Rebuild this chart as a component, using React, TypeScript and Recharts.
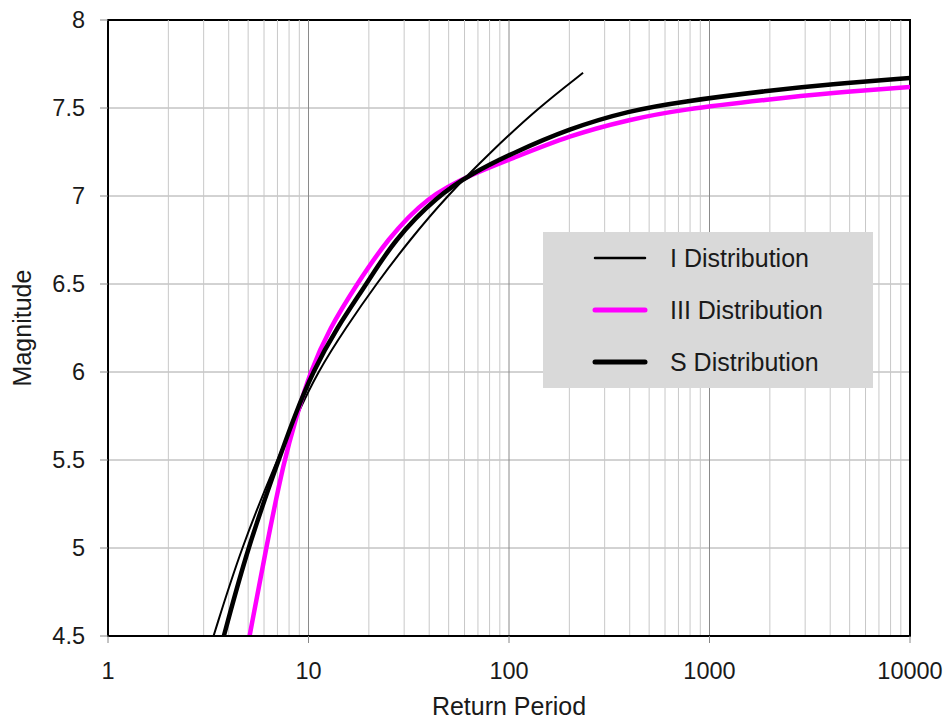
import React from 'react';
import { LineChart, Line, XAxis, YAxis, CartesianGrid, ReferenceLine, ReferenceArea } from 'recharts';

const periodTicks = [1, 10, 100, 1000, 10000];
const magnitudeTicks = [4.5, 5, 5.5, 6, 6.5, 7, 7.5, 8];
const decadeLines = [10, 100, 1000];
const minorLines = [
  2, 3, 4, 5, 6, 7, 8, 9,
  20, 30, 40, 50, 60, 70, 80, 90,
  200, 300, 400, 500, 600, 700, 800, 900,
  2000, 3000, 4000, 5000, 6000, 7000, 8000, 9000,
];

// I distribution (thin black), stops near T=230
const iPeriods = [3.36, 4.61, 6.97, 8.72, 11.1, 15.31, 21.75, 31.95, 49.05, 81.0, 139.5, 234.1];
const iMagnitudes = [4.5, 5.0, 5.5, 5.75, 6.0, 6.25, 6.5, 6.75, 7.0, 7.25, 7.5, 7.7];

// III distribution (magenta)
const iiiPeriods = [5.083, 6.143, 7.554, 8.722, 10.19, 12.74, 17.47, 24.53, 39.29, 65.9, 100.8, 200.9, 400.3, 711, 1999, 3984, 10000];
const iiiMagnitudes = [4.5, 5.0, 5.5, 5.75, 6.0, 6.25, 6.5, 6.75, 7.0, 7.125, 7.207, 7.345, 7.435, 7.49, 7.55, 7.585, 7.62];

// S distribution (thick black)
const sPeriods = [3.782, 4.967, 7.092, 8.523, 10.48, 13.81, 19.49, 26.74, 43.83, 65.9, 100.8, 200.9, 400.3, 711, 1999, 3984, 10000];
const sMagnitudes = [4.5, 5.0, 5.5, 5.75, 6.0, 6.25, 6.5, 6.75, 7.0, 7.13, 7.236, 7.385, 7.485, 7.535, 7.6, 7.635, 7.67];

const toRows = (periods: number[], mags: number[]) => periods.map((T, k) => ({ T, M: mags[k] }));

const series = [
  { name: 'I Distribution', color: '#000000', width: 2, data: toRows(iPeriods, iMagnitudes) },
  { name: 'III Distribution', color: '#ff00ff', width: 4.5, data: toRows(iiiPeriods, iiiMagnitudes) },
  { name: 'S Distribution', color: '#000000', width: 4.5, data: toRows(sPeriods, sMagnitudes) },
];

const FONT = '"Liberation Sans", Arial, sans-serif';

function LegendBox() {
  return (
    <div
      style={{
        position: 'absolute', left: 543, top: 232, width: 330, height: 156,
        background: '#d9d9d9', fontFamily: FONT,
      }}
    >
      {series.map((s, k) => (
        <div key={s.name} style={{ position: 'absolute', left: 0, top: 26 + k * 52 - 14, height: 28, display: 'flex', alignItems: 'center' }}>
          <svg width={127} height={12} style={{ flex: 'none' }}>
            <line x1={52} x2={102} y1={6} y2={6} stroke={s.color} strokeWidth={s.width + 0.5} strokeLinecap="round" />
          </svg>
          <span style={{ fontSize: 25, color: '#1a1a1a', whiteSpace: 'nowrap' }}>{s.name}</span>
        </div>
      ))}
    </div>
  );
}

export default function App() {
  const tickStyle = { fontSize: 23.5, fill: '#1a1a1a', fontFamily: FONT };
  const titleStyle = { fontSize: 25, fill: '#1a1a1a', fontFamily: FONT };
  return (
    <div style={{ position: 'absolute', left: 0, top: 0, width: 945, height: 722, background: '#fff' }}>
      <LineChart width={945} height={722} margin={{ top: 20, right: 35, left: 0, bottom: 0 }}>
        <CartesianGrid vertical={false} stroke="#a6a6a6" />
        {minorLines.map((v) => (
          <ReferenceLine key={`m${v}`} x={v} stroke="#c8c8c8" strokeWidth={1} />
        ))}
        {decadeLines.map((v) => (
          <ReferenceLine key={`d${v}`} x={v} stroke="#8a8a8a" strokeWidth={1} />
        ))}
        <XAxis
          dataKey="T"
          type="number"
          scale="log"
          domain={[1, 10000]}
          ticks={periodTicks}
          allowDataOverflow
          height={86}
          axisLine={{ stroke: '#000', strokeWidth: 2 }}
          tickLine={{ stroke: '#888' }}
          tickSize={7}
          tickMargin={19}
          tick={tickStyle}
          label={{ value: 'Return Period', position: 'insideBottom', offset: 7, style: titleStyle }}
        />
        <YAxis
          type="number"
          domain={[4.5, 8]}
          ticks={magnitudeTicks}
          allowDataOverflow
          width={108}
          axisLine={{ stroke: '#000', strokeWidth: 2 }}
          tickLine={{ stroke: '#888' }}
          tickSize={8}
          tickMargin={15}
          tick={tickStyle}
          label={{ value: 'Magnitude', angle: -90, position: 'insideLeft', offset: 22, style: { ...titleStyle, textAnchor: 'middle' } }}
        />
        <ReferenceArea x1={1} x2={10000} y1={4.5} y2={8} fill="none" stroke="#000" strokeWidth={2} ifOverflow="visible" />
        {series.map((s) => (
          <Line
            key={s.name}
            data={s.data}
            dataKey="M"
            name={s.name}
            type="basis"
            stroke={s.color}
            strokeWidth={s.width}
            dot={false}
            activeDot={false}
            isAnimationActive={false}
          />
        ))}
      </LineChart>
      <LegendBox />
    </div>
  );
}
